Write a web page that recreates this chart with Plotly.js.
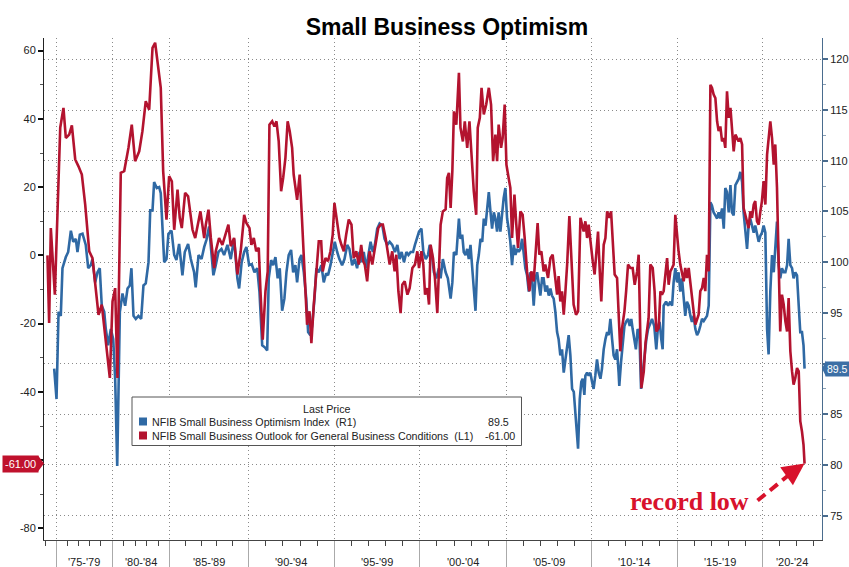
<!DOCTYPE html>
<html>
<head>
<meta charset="utf-8">
<script src="https://cdn.plot.ly/plotly-3.0.1.min.js"></script>
<style>html,body{margin:0;padding:0;background:#fff;}#chart{width:849px;height:567px;}</style>
</head>
<body>
<div id="chart"></div>
<script>
// ---------------- DATA ----------------
const seriesNames = ['NFIB Small Business Optimism Index', 'NFIB Small Business Outlook for General Business Conditions'];
const seriesAxisTags = ['(R1)', '(L1)'];
const lastPriceText = ['89.5', '-61.00'];

// NFIB Small Business Outlook for General Business Conditions (left axis), decimal years
const outlookYears = [
1974.22,1974.37,1974.52,1974.88,1975.36,1975.65,1975.86,1976.16,1976.40,1976.70,
1976.99,1977.29,1977.59,1977.95,1978.24,1978.54,1978.78,1979.07,1979.37,1979.67,
1979.79,1980.03,1980.26,1980.46,1980.75,1981.05,1981.42,1981.71,1982.00,1982.36,
1982.64,1982.93,1983.23,1983.52,1983.75,1984.24,1984.45,1984.74,1984.97,1985.15,
1985.30,1985.51,1985.65,1985.78,1985.99,1986.18,1986.29,1986.46,1986.63,1986.77,
1986.96,1987.20,1987.30,1987.47,1987.62,1987.83,1987.93,1988.14,1988.35,1988.73,
1988.88,1989.09,1989.30,1989.51,1989.73,1989.87,1990.06,1990.17,1990.31,1990.45,
1990.60,1990.70,1990.83,1990.99,1991.12,1991.22,1991.38,1991.51,1991.63,1991.76,
1991.90,1992.02,1992.15,1992.28,1992.40,1992.54,1992.63,1992.83,1992.98,1993.12,
1993.27,1993.41,1993.55,1993.66,1993.80,1993.94,1994.09,1994.23,1994.32,1994.48,
1994.63,1994.77,1994.90,1995.00,1995.16,1995.29,1995.41,1995.55,1995.69,1995.84,
1996.00,1996.13,1996.28,1996.43,1996.57,1996.69,1996.78,1996.92,1997.06,1997.22,
1997.31,1997.45,1997.57,1997.71,1997.84,1998.00,1998.16,1998.24,1998.39,1998.53,
1998.63,1998.75,1998.88,1998.98,1999.12,1999.28,1999.41,1999.57,1999.72,1999.86,
1999.96,2000.10,2000.21,2000.31,2000.44,2000.54,2000.63,2000.77,2000.88,2001.02,
2001.11,2001.21,2001.34,2001.50,2001.59,2001.69,2001.79,2001.89,2001.98,2002.12,
2002.27,2002.36,2002.50,2002.61,2002.75,2002.88,2003.00,2003.13,2003.27,2003.36,
2003.48,2003.58,2003.71,2003.85,2004.00,2004.13,2004.25,2004.38,2004.48,2004.57,
2004.71,2004.80,2004.92,2005.02,2005.15,2005.25,2005.35,2005.49,2005.60,2005.70,
2005.84,2005.97,2006.09,2006.23,2006.37,2006.48,2006.62,2006.72,2006.85,2006.95,
2007.07,2007.20,2007.30,2007.46,2007.60,2007.73,2007.89,2007.99,2008.08,2008.18,
2008.28,2008.38,2008.48,2008.58,2008.71,2008.83,2008.96,2009.10,2009.22,2009.36,
2009.45,2009.55,2009.65,2009.75,2009.84,2009.98,2010.08,2010.19,2010.27,2010.39,
2010.49,2010.58,2010.72,2010.82,2010.92,2011.05,2011.15,2011.27,2011.36,2011.50,
2011.59,2011.69,2011.79,2011.93,2012.03,2012.14,2012.28,2012.41,2012.53,2012.67,
2012.76,2012.92,2013.06,2013.16,2013.34,2013.44,2013.58,2013.69,2013.79,2013.93,
2014.03,2014.12,2014.22,2014.32,2014.42,2014.51,2014.61,2014.71,2014.80,2014.90,
2015.00,2015.09,2015.19,2015.29,2015.39,2015.48,2015.58,2015.68,2015.78,2015.87,
2015.97,2016.07,2016.17,2016.26,2016.36,2016.46,2016.56,2016.65,2016.75,2016.85,
2016.95,2017.04,2017.14,2017.24,2017.34,2017.43,2017.53,2017.63,2017.73,2017.82,
2017.92,2018.02,2018.12,2018.21,2018.31,2018.41,2018.50,2018.60,2018.70,2018.80,
2018.89,2018.99,2019.09,2019.18,2019.28,2019.38,2019.48,2019.57,2019.67,2019.77,
2019.87,2019.96,2020.06,2020.16,2020.26,2020.35,2020.45,2020.55,2020.65,2020.74,
2020.84,2020.94,2021.03,2021.13,2021.23,2021.33,2021.43,2021.52,2021.62,2021.72,
2021.81,2021.91,2022.01,2022.11,2022.20,2022.30,2022.39,2022.45];
const outlookValues = [
0,-19.8,8.0,-11.5,37.4,43.2,34.4,35.4,38.1,28.1,
26.1,23.7,14.9,1.2,-0.8,-10.5,-17.4,-14.4,-24.2,-34,
-35.9,-13.5,-9.6,-35.9,24.2,24.7,31.5,38.3,27.6,30.5,
36.4,45.2,42.7,60.8,62.3,49.1,24.7,10.5,23.2,21.7,
7.5,19.3,11.0,8.0,18.3,17.3,12.9,7.5,5.1,8.0,
12.9,5.1,9.0,13.4,5.1,-3.7,1.2,5.1,3.1,9.0,
2.7,5.1,-5.6,1.2,11.9,9.5,8.0,3.1,5.1,1.2,
2.2,-10.5,-24.7,-10.5,-4.7,38.3,39.3,37.8,39.3,33.4,
18.8,22.7,28.6,39.3,36.4,31.5,23.7,16.3,23.7,10.0,
-4.7,-20.3,-16.4,-25.7,-14.4,-6.6,4.1,4.1,-4.7,-0.8,
-1.7,1.2,6.1,15.4,9.0,5.1,3.1,1.2,6.1,10.5,
9.0,-0.8,1.2,-2.7,3.1,-1.7,-2.7,-7.6,1.2,-2.7,
0.2,5.1,8.0,9.0,9.0,5.1,-0.8,-2.7,1.2,-4.7,
0.2,-10.5,-16.9,-8.6,-7.6,-11.5,-9.6,-3.7,-2.7,1.2,
-3.7,1.2,-2.7,-11.5,-9.6,-14.4,3.1,-0.8,-6.6,-16.9,
-4.7,9.0,12.9,13.5,22.7,24.2,13.9,24.7,42.2,38.3,
53.5,37.4,33.4,39.3,31.5,39.3,29.5,18.8,11.9,37.4,
40.3,49.1,41.3,44.2,49.1,44.2,27.6,35.4,27.6,38.3,
31.5,34.4,44.2,26.6,22.7,19.8,5.1,17.8,9.0,2.2,
12.9,11.9,5.1,-4.7,-10.5,-4.7,-7.6,0.2,9.5,0.2,
1.2,-4.7,-2.7,-6.6,-0.8,0.2,-6.6,-11.5,-6.1,-13.5,
-10.5,-17.4,-10.5,-2.7,11.5,0.2,-14.4,-17.4,-16.4,11.0,
9.0,7.0,10.0,5.1,9.0,2.2,-1.7,-5.6,-0.8,7.0,
-4.7,-13.5,3.1,5.1,12.9,11.0,12.9,3.1,-5.6,-6.6,
-19.3,-28.1,-21.3,-16.4,-10.5,-2.7,-3.7,-3.7,-8.6,-4.7,
0.2,-38.9,-34.0,-25.6,-18.4,-2.7,-3.7,-10.5,-22.3,-21.3,
-10.5,-11.5,-10.5,-4.7,-0.8,-8.6,-4.7,-3.7,-2.7,11.9,
5.1,1.2,-2.7,-4.7,-7.6,-3.7,-6.6,-3.7,-8.6,-13.5,
-16.4,-20.3,-18.4,-17.4,-10.5,-9.6,-6.6,-10.5,0.2,-4.7,
50.0,49.1,47.1,46.1,39.3,36.4,37.8,33.4,34.4,31.5,
48.1,40.3,43.2,37.4,30.5,35.4,34.4,33.4,34.4,32.5,
13.9,11.9,9.0,8.0,12.9,11.0,14.9,15.9,10.0,9.0,
12.9,15.9,21.8,14.9,29.5,33.4,39.3,34.4,26.6,32.5,
19.8,-2.7,-22.3,-11.5,-14.4,-19.3,-22.3,-12.5,-28.1,-34.0,
-37.9,-35.9,-33.0,-34.0,-48.6,-51.6,-55.5,-61.0];

// NFIB Small Business Optimism Index (right axis), decimal years
const optimismYears = [
1974.82,1975.03,1975.21,1975.41,1975.56,1975.86,1976.07,1976.31,1976.52,1976.75,
1976.90,1977.11,1977.35,1977.64,1977.86,1978.09,1978.24,1978.48,1978.69,1978.89,
1979.07,1979.29,1979.43,1979.64,1979.88,1980.09,1980.26,1980.44,1980.67,1980.90,
1981.13,1981.34,1981.54,1981.68,1981.86,1982.06,1982.29,1982.53,1982.73,1982.93,
1983.17,1983.32,1983.52,1983.66,1983.89,1984.10,1984.24,1984.54,1984.74,1984.91,
1985.13,1985.30,1985.44,1985.61,1985.82,1985.97,1986.18,1986.35,1986.56,1986.66,
1986.84,1987.03,1987.20,1987.34,1987.51,1987.68,1987.78,1987.93,1988.10,1988.29,
1988.46,1988.67,1988.88,1989.09,1989.30,1989.41,1989.57,1989.73,1989.87,1990.04,
1990.19,1990.35,1990.51,1990.64,1990.80,1990.95,1991.09,1991.18,1991.32,1991.44,
1991.57,1991.70,1991.82,1991.96,1992.09,1992.21,1992.34,1992.48,1992.60,1992.73,
1992.83,1992.97,1993.08,1993.22,1993.36,1993.47,1993.60,1993.70,1993.84,1993.95,
1994.09,1994.24,1994.38,1994.52,1994.63,1994.77,1994.90,1995.02,1995.16,1995.29,
1995.45,1995.59,1995.75,1995.88,1996.04,1996.19,1996.33,1996.47,1996.59,1996.72,
1996.86,1996.98,1997.12,1997.25,1997.37,1997.51,1997.65,1997.81,1997.94,1998.10,
1998.24,1998.39,1998.55,1998.69,1998.82,1998.94,1999.08,1999.22,1999.34,1999.47,
1999.61,1999.72,1999.82,1999.96,2000.10,2000.21,2000.35,2000.48,2000.58,2000.69,
2000.82,2000.96,2001.11,2001.21,2001.34,2001.50,2001.63,2001.73,2001.79,2001.89,
2001.98,2002.12,2002.27,2002.36,2002.46,2002.55,2002.65,2002.75,2002.84,2002.94,
2003.04,2003.13,2003.23,2003.33,2003.42,2003.52,2003.62,2003.71,2003.81,2003.91,
2004.00,2004.10,2004.19,2004.29,2004.38,2004.48,2004.57,2004.67,2004.77,2004.86,
2004.96,2005.06,2005.15,2005.25,2005.35,2005.45,2005.55,2005.64,2005.74,2005.84,
2005.94,2006.03,2006.13,2006.23,2006.33,2006.42,2006.52,2006.62,2006.72,2006.82,
2006.91,2007.01,2007.11,2007.20,2007.30,2007.40,2007.50,2007.60,2007.69,2007.79,
2007.89,2007.99,2008.08,2008.18,2008.28,2008.38,2008.48,2008.58,2008.67,2008.77,
2008.87,2008.97,2009.07,2009.17,2009.22,2009.32,2009.41,2009.49,2009.59,2009.65,
2009.75,2009.84,2009.94,2010.04,2010.13,2010.23,2010.33,2010.43,2010.53,2010.62,
2010.72,2010.82,2010.92,2011.01,2011.11,2011.21,2011.30,2011.40,2011.50,2011.59,
2011.63,2011.73,2011.83,2011.93,2012.02,2012.14,2012.24,2012.33,2012.41,2012.51,
2012.60,2012.70,2012.80,2012.90,2012.99,2013.09,2013.21,2013.31,2013.38,2013.54,
2013.67,2013.79,2013.89,2013.98,2014.08,2014.16,2014.22,2014.36,2014.48,2014.61,
2014.71,2014.80,2014.90,2015.00,2015.09,2015.19,2015.29,2015.39,2015.48,2015.58,
2015.68,2015.78,2015.87,2015.97,2016.07,2016.17,2016.26,2016.36,2016.46,2016.56,
2016.65,2016.75,2016.85,2016.95,2017.04,2017.14,2017.24,2017.34,2017.43,2017.53,
2017.63,2017.73,2017.82,2017.92,2018.02,2018.12,2018.21,2018.31,2018.41,2018.50,
2018.60,2018.70,2018.80,2018.89,2018.99,2019.09,2019.18,2019.28,2019.38,2019.48,
2019.57,2019.67,2019.77,2019.87,2019.96,2020.06,2020.16,2020.26,2020.35,2020.45,
2020.55,2020.65,2020.74,2020.84,2020.94,2021.03,2021.13,2021.23,2021.33,2021.43,
2021.52,2021.62,2021.72,2021.81,2021.91,2022.01,2022.11,2022.20,2022.30,2022.39,
2022.45];
const optimismValues = [
89.5,86.5,95.1,94.7,99.4,100.5,101.0,103.1,102.0,102.3,
101.0,102.7,102.8,101.7,99.4,99.7,100.3,98.0,99.0,99.4,
95.7,95.1,93.4,91.8,93.4,92.4,88.5,79.9,95.1,96.9,
95.7,97.4,97.7,99.4,94.7,94.4,94.7,94.4,97.7,97.9,
100.0,105.1,105.1,107.9,107.3,107.4,106.8,100.0,100.3,102.8,
103.1,100.7,100.2,101.8,98.7,101.0,101.8,100.3,99.0,97.5,
100.7,100.3,101.5,102.2,103.5,100.3,98.7,99.7,101.0,101.3,
100.7,101.7,100.3,102.3,98.4,97.4,100.0,101.0,101.5,99.7,
99.8,99.0,99.4,97.1,91.8,91.6,91.3,98.4,100.2,99.7,
100.5,98.4,99.4,95.2,96.4,99.0,100.7,101.2,99.0,99.7,
98.0,100.3,100.7,99.0,96.4,93.1,92.8,93.7,96.4,99.4,
99.0,99.7,98.0,98.9,98.7,99.7,101.0,102.0,101.0,100.3,
99.7,100.3,101.7,101.3,99.7,100.3,99.4,101.0,100.0,101.0,
99.4,100.7,102.0,101.0,101.7,103.3,103.8,103.6,102.3,101.7,
102.0,101.7,101.0,101.7,100.3,101.0,100.0,101.0,100.7,101.0,
101.0,101.7,102.3,103.0,103.3,101.0,100.3,100.7,101.7,101.0,
99.0,98.4,99.4,98.4,100.3,99.0,98.4,97.1,96.4,98.0,
101.0,100.7,104.3,102.3,102.7,101.0,100.7,101.3,100.3,101.7,
99.0,97.4,95.2,99.7,100.7,102.3,102.0,104.3,103.6,105.6,
106.9,104.9,103.3,104.9,104.3,103.0,104.9,103.0,104.9,106.3,
107.3,104.3,103.3,102.0,99.7,101.7,100.7,101.3,101.0,101.3,
102.3,101.0,99.4,98.7,97.1,99.0,98.4,95.7,98.4,99.0,
97.7,96.7,98.4,98.4,97.1,97.7,96.7,97.4,96.7,96.4,
95.1,93.1,92.4,90.8,91.4,89.1,90.4,91.8,92.8,90.8,
87.5,87.2,85.2,83.2,81.6,86.5,88.2,88.5,86.9,88.8,
89.1,88.8,89.1,88.2,87.5,88.8,90.4,89.1,88.5,89.5,
91.4,92.4,93.1,92.8,94.4,92.4,90.8,90.4,91.4,89.1,
87.8,90.1,92.4,93.7,94.1,94.4,93.7,94.4,93.4,92.1,
91.4,93.4,93.1,87.5,89.1,90.4,92.4,93.4,93.7,94.4,
93.7,91.4,93.7,94.1,92.4,91.4,95.7,96.1,95.7,96.1,
95.7,98.0,99.4,98.0,99.0,97.1,98.4,96.4,94.7,96.1,
95.7,94.7,94.1,94.7,93.4,92.8,93.1,93.7,94.4,94.2,
94.4,94.7,95.7,105.9,105.6,104.9,104.6,104.3,104.9,104.3,
105.3,103.3,107.3,106.9,104.9,107.6,104.9,104.6,107.6,107.9,
108.2,108.9,107.9,104.9,102.9,101.3,103.6,104.3,103.6,102.9,
103.6,102.6,102.0,102.6,102.9,103.6,102.9,93.4,90.9,97.1,
100.7,99.0,101.7,104.0,99.7,98.4,99.4,99.0,99.0,99.7,
102.3,99.7,99.4,98.4,99.0,98.7,95.7,93.1,93.1,91.8,
89.5];

// x-axis periods (Bloomberg-style period buckets)
const periodStartYears = [1975,1980,1985,1990,1995,2000,2005,2010,2015,2020,2025];
const periodLabels = ["'75-'79","'80-'84","'85-'89","'90-'94","'95-'99","'00-'04","'05-'09","'10-'14","'15-'19","'20-'24"];
const minorTickYears = [1974,1976,1977,1978,1979,1981,1982,1983,1984,1986,1987,1988,1989,1991,1992,1993,1994,1996,1997,1998,1999,2001,2002,2003,2004,2006,2007,2008,2009,2011,2012,2013,2014,2016,2017,2018,2019,2021,2022,2023];
// axis ticks (the value tags sit on top of the -60 and 90 labels in the source)
const leftTickValues = [-80,-60,-40,-20,0,20,40,60];
const leftTickText = ['-80','','-40','-20','0','20','40','60'];
const rightTickValues = [75,80,85,90,95,100,105,110,115,120];
const rightTickText = ['75','80','85','','95','100','105','110','115','120'];
const leftRange = [-83.4, 63.7];
const rightRange = [72.6, 122.1];
const annotationText = 'record low';

// ---------------- AXIS MAPPING (the source axis is not time-uniform) ----------------
const PERIOD_EDGE_UNITS = [0,56,113.3,192.3,278.3,363.6,450,535.3,621,706.6,792.2];
const X_RANGE = [-12.2, 766];
function warp(yr) {
  const Y = periodStartYears, U = PERIOD_EDGE_UNITS;
  if (yr <= Y[0]) return U[0] + (yr - Y[0]) * (U[1] - U[0]) / (Y[1] - Y[0]);
  for (let i = 0; i < Y.length - 1; i++) {
    if (yr <= Y[i + 1]) return U[i] + (yr - Y[i]) * (U[i + 1] - U[i]) / (Y[i + 1] - Y[i]);
  }
  return U[U.length - 1];
}

const RED = '#b3132f', BLUE = '#2f69a4', TAGRED = '#c0112d', TAGBLUE = '#3c6fa5', NOTE = '#d8122c';
const FONT = 'Liberation Sans, Arial, sans-serif';

const traces = [
  {x: optimismYears.map(warp), y: optimismValues, type: 'scatter', mode: 'lines', name: seriesNames[0],
   xaxis: 'x', yaxis: 'y', line: {color: BLUE, width: 2.6}},
  {x: outlookYears.map(warp), y: outlookValues, type: 'scatter', mode: 'lines', name: seriesNames[1],
   xaxis: 'x', yaxis: 'y2', line: {color: RED, width: 2.6}}
];

const lastX = warp(outlookYears[outlookYears.length - 1]);
const lastRed = outlookValues[outlookValues.length - 1];
const lastBlue = optimismValues[optimismValues.length - 1];

// pixel helpers for paper coords (plot area: x 44..822, y 38..540)
const px = x => (x - 44) / 778;
const py = y => (540 - y) / 502;

const annotations = [];
// period labels
for (let i = 0; i < periodLabels.length; i++) {
  const a = PERIOD_EDGE_UNITS[i], b = Math.min(PERIOD_EDGE_UNITS[i + 1], X_RANGE[1]);
  annotations.push({x: (a + b) / 2, xref: 'x', y: 0, yref: 'paper', yanchor: 'middle', yshift: -22,
    text: periodLabels[i], showarrow: false, font: {family: FONT, size: 11, color: '#222'}});
}
// value tags
annotations.push({x: 0, xref: 'paper', xanchor: 'right', xshift: -5, y: lastRed, yref: 'y2', yanchor: 'middle',
  text: lastPriceText[1], showarrow: false, bgcolor: TAGRED, borderpad: 2, font: {family: FONT, size: 11, color: '#fff'}});
annotations.push({x: 1, xref: 'paper', xanchor: 'left', xshift: 3, y: lastBlue, yref: 'y', yanchor: 'middle',
  text: lastPriceText[0], showarrow: false, bgcolor: TAGBLUE, borderpad: 1, font: {family: FONT, size: 10.5, color: '#fff'}});
// legend texts
const LEG = 10.7;
annotations.push({x: px(327), xref: 'paper', y: py(409), yref: 'paper', xanchor: 'center', yanchor: 'middle',
  text: 'Last Price', showarrow: false, font: {family: FONT, size: LEG, color: '#222'}});
annotations.push({x: px(150), xref: 'paper', y: py(421.5), yref: 'paper', xanchor: 'left', yanchor: 'middle',
  text: seriesNames[0] + ' \u00a0' + seriesAxisTags[0], showarrow: false, font: {family: FONT, size: LEG, color: '#222'}});
annotations.push({x: px(150), xref: 'paper', y: py(435.5), yref: 'paper', xanchor: 'left', yanchor: 'middle',
  text: seriesNames[1] + ' \u00a0' + seriesAxisTags[1], showarrow: false, font: {family: FONT, size: LEG, color: '#222'}});
annotations.push({x: px(511), xref: 'paper', y: py(421.5), yref: 'paper', xanchor: 'right', yanchor: 'middle',
  text: lastPriceText[0], showarrow: false, font: {family: FONT, size: LEG, color: '#222'}});
annotations.push({x: px(517), xref: 'paper', y: py(435.5), yref: 'paper', xanchor: 'right', yanchor: 'middle',
  text: lastPriceText[1], showarrow: false, font: {family: FONT, size: LEG, color: '#222'}});
// record low note + arrowhead
annotations.push({x: px(689), xref: 'paper', y: py(501), yref: 'paper', xanchor: 'center', yanchor: 'middle',
  text: '<b>' + annotationText + '</b>', showarrow: false, font: {family: 'Liberation Serif, Times New Roman, serif', size: 26, color: NOTE}});
annotations.push({x: lastX, xref: 'x', y: lastRed, yref: 'y2', text: '', showarrow: true, arrowhead: 2,
  arrowsize: 1.1, arrowwidth: 4, arrowcolor: NOTE, ax: -17, ay: 12, standoff: 0});

const shapes = [
  // value tag pointers
  {type: 'path', xref: 'paper', xsizemode: 'pixel', xanchor: 0, yref: 'y2', ysizemode: 'pixel', yanchor: lastRed,
   path: 'M-6,8 L0,0 L-6,-8 Z', fillcolor: TAGRED, line: {width: 0}, layer: 'above'},
  {type: 'path', xref: 'paper', xsizemode: 'pixel', xanchor: 1, yref: 'y', ysizemode: 'pixel', yanchor: lastBlue,
   path: 'M4,8 L0,0 L4,-8 Z', fillcolor: TAGBLUE, line: {width: 0}, layer: 'above'},
  // legend box
  {type: 'rect', xref: 'paper', yref: 'paper', x0: px(132), x1: px(521.5), y0: py(445.5), y1: py(397),
   fillcolor: '#ffffff', line: {color: '#555', width: 1}, layer: 'above'},
  {type: 'rect', xref: 'paper', yref: 'paper', x0: px(139), x1: px(147), y0: py(425.5), y1: py(417.5),
   fillcolor: BLUE, line: {width: 0}, layer: 'above'},
  {type: 'rect', xref: 'paper', yref: 'paper', x0: px(139), x1: px(147), y0: py(439.5), y1: py(431.5),
   fillcolor: RED, line: {width: 0}, layer: 'above'},
  // dashed arrow body
  {type: 'line', xref: 'x', xsizemode: 'pixel', xanchor: lastX, x0: -47, x1: -14,
   yref: 'y2', ysizemode: 'pixel', yanchor: lastRed, y0: -37, y1: -10,
   line: {color: NOTE, width: 4, dash: '10px,6px'}, layer: 'above'}
];

const layout = {
  width: 849, height: 567,
  margin: {l: 44, r: 27, t: 38, b: 27},
  paper_bgcolor: '#fff', plot_bgcolor: '#fff',
  showlegend: false, hovermode: false,
  font: {family: FONT, size: 11, color: '#222'},
  title: {text: '<b>Small Business Optimism</b>', x: 0.5265, xanchor: 'center', xref: 'container',
    y: 0.952, yanchor: 'middle', yref: 'container', font: {family: FONT, size: 23, color: '#000'}},
  xaxis: {
    range: X_RANGE, tickmode: 'array', tickvals: PERIOD_EDGE_UNITS.slice(0, 10), showticklabels: false,
    ticks: 'outside', ticklen: 27, tickwidth: 1, tickcolor: '#aaa',
    showgrid: true, gridcolor: '#8a8a8a', gridwidth: 1, griddash: '1px,3px',
    showline: true, linecolor: '#444', linewidth: 1, zeroline: false, fixedrange: true,
    minor: {tickmode: 'array', tickvals: minorTickYears.map(warp), ticks: 'outside', ticklen: 5, tickwidth: 1, tickcolor: '#444', showgrid: false}
  },
  yaxis: {
    side: 'right', range: rightRange, tickmode: 'array', tickvals: rightTickValues, ticktext: rightTickText,
    ticks: 'outside', ticklen: 5, tickwidth: 2, tickcolor: '#4a6c8e',
    showgrid: true, gridcolor: '#8a8a8a', gridwidth: 1, griddash: '1px,3px',
    showline: true, linecolor: '#4a6c8e', linewidth: 1, zeroline: false, fixedrange: true,
    tickfont: {family: FONT, size: 11, color: '#222'},
    minor: {dtick: 2.5, ticks: 'outside', ticklen: 3, tickwidth: 1, tickcolor: '#8aa0b5', showgrid: false}
  },
  yaxis2: {
    overlaying: 'y', side: 'left', range: leftRange, tickmode: 'array', tickvals: leftTickValues, ticktext: leftTickText,
    ticks: 'outside', ticklen: 5, tickwidth: 2, tickcolor: '#111',
    showgrid: false, showline: true, linecolor: '#222', linewidth: 1, zeroline: false, fixedrange: true,
    tickfont: {family: FONT, size: 11, color: '#222'},
    minor: {dtick: 10, ticks: 'outside', ticklen: 3, tickwidth: 1, tickcolor: '#555', showgrid: false}
  },
  shapes: shapes,
  annotations: annotations
};

Plotly.newPlot('chart', traces, layout, {displayModeBar: false, staticPlot: true});
</script>
</body>
</html>
